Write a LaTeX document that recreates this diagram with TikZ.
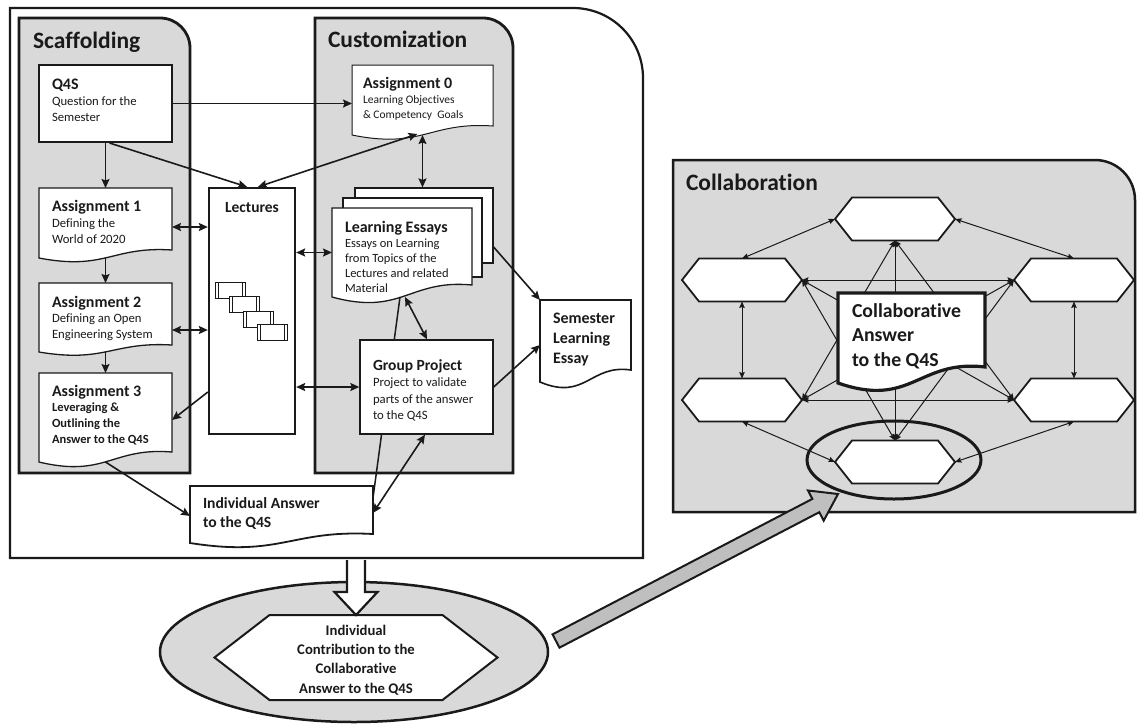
\documentclass[tikz,border=0pt]{standalone}
\usepackage{fontspec}
\setmainfont{Carlito}[Ligatures=NoCommon]
\usetikzlibrary{arrows.meta,calc,shapes.geometric}
\definecolor{panelgray}{HTML}{D9D9D9}
\definecolor{arrowgray}{HTML}{BFBFBF}
\definecolor{ink}{HTML}{1A1A1A}
% document shape: name, x1, y1, x2, yb (left bottom), a (rise of right end), style
\newcommand{\docshape}[7]{%
  \node[inner sep=0pt, outer sep=0pt, minimum width={(#4)-(#2)}, minimum height={(#5)-(#3)}] (#1) at ({((#2)+(#4))/2},{((#3)+(#5))/2}) {};
  \draw[#7] (#2,#3) -- (#4,#3) -- (#4,{(#5)-(#6)}) .. controls ({(#2)+0.55*((#4)-(#2))},{(#5)-1.5*(#6)}) and ({(#2)+0.5*((#4)-(#2))},{(#5)+1.6*(#6)}) .. (#2,#5) -- cycle;
}
% hexagon outline over a named rectangle node: name, inset, style
\newcommand{\hexdraw}[3]{%
  \draw[#3] ($(#1.north west)+(#2,0)$) -- ($(#1.north east)+(-#2,0)$) -- (#1.east) -- ($(#1.south east)+(-#2,0)$) -- ($(#1.south west)+(#2,0)$) -- (#1.west) -- cycle;
}
\newcommand{\ttl}[1]{\hbox{\fontsize{16}{19}\selectfont\bfseries #1}}
\newcommand{\tline}[1]{\hbox{#1}}
\begin{document}
\begin{tikzpicture}[x=1pt,y=-1pt,
  panel/.style={draw=ink, line width=2.8pt, fill=panelgray},
  txt/.style={anchor=base west, inner sep=0pt, outer sep=0pt, text=ink},
  boxthick/.style={draw=ink, fill=white, line width=2pt, inner sep=0pt},
  boxthin/.style={draw=ink, fill=white, line width=1.2pt, inner sep=0pt},
  docthin/.style={draw=ink, fill=white, line width=1pt},
  docmid/.style={draw=ink, fill=white, line width=1.3pt},
  arr/.style={draw=ink, line width=1.6pt, -{Stealth[length=9pt,width=8pt,inset=1.5pt]}},
  darr/.style={draw=ink, line width=1.6pt, {Stealth[length=9pt,width=8pt,inset=1.5pt]}-{Stealth[length=9pt,width=8pt,inset=1.5pt]}},
  carr/.style={draw=ink, line width=1pt, {Stealth[length=6.5pt,width=5.5pt,inset=1pt]}-{Stealth[length=6.5pt,width=5.5pt,inset=1pt]}},
  hexbox/.style={inner sep=0pt, outer sep=0pt, minimum width=120pt, minimum height=43pt},
  hexline/.style={draw=ink, fill=white, line width=1.8pt},
  lrect/.style={draw=ink, fill=white, line width=0.9pt, minimum width=30pt, minimum height=16pt, inner sep=0pt,
    path picture={\draw[line width=0.7pt] ([xshift=3pt]path picture bounding box.north west) -- ([xshift=3pt]path picture bounding box.south west) ([xshift=-3pt]path picture bounding box.north east) -- ([xshift=-3pt]path picture bounding box.south east);}}
]
\useasboundingbox (0,0) rectangle (1138,724);

% ---------- outer frame and panels ----------
\draw[draw=ink, line width=2.2pt] (10,558) -- (10,8) -- (573,8) .. controls (611.7,8) and (643,39.3) .. (643,78) -- (643,558) -- cycle;
\draw[panel] (19,473) -- (19,18) -- (160,18) .. controls (176.6,18) and (190,31.4) .. (190,48) -- (190,473) -- cycle;
\draw[panel] (315,473) -- (315,18) -- (483,18) .. controls (499.6,18) and (513,31.4) .. (513,48) -- (513,473) -- cycle;
\draw[panel, line width=2.5pt] (673,512) -- (673,160) -- (1095,160) .. controls (1117.1,160) and (1135,177.9) .. (1135,200) -- (1135,512) -- cycle;

\node[txt] (hScaf) at (33,48) {\fontsize{23.5}{28}\selectfont\bfseries Scaffolding};
\node[txt] (hCust) at (328,47) {\fontsize{23.5}{28}\selectfont\bfseries Customization};
\node[txt] (hColl) at (686,190) {\fontsize{23.5}{28}\selectfont\bfseries Collaboration};

% ---------- scaffolding ----------
\node[boxthick, minimum width=133pt, minimum height=77pt] (Q4S) at (105.5,103.5) {};
\docshape{A1}{39}{188}{172}{258}{8}{docmid}
\docshape{A2}{39}{283}{172}{352}{7}{docmid}
\docshape{A3}{39}{373}{172}{462}{10}{docmid}

\node[txt] (tQ4S) at (52,89) {\fontsize{12.7}{16}\selectfont\vtop{\ttl{Q4S}\tline{Question for the}\tline{Semester}}};
\node[txt] (tA1) at (52,211) {\fontsize{12.7}{16}\selectfont\vtop{\ttl{Assignment 1}\tline{Defining the}\tline{World of 2020}}};
\node[txt] (tA2) at (52,307) {\fontsize{12.7}{15.5}\selectfont\vtop{\ttl{Assignment 2}\tline{Defining an Open}\tline{Engineering System}}};
\node[txt] (tA3) at (52,396) {\fontsize{12.5}{15.7}\selectfont\bfseries\vtop{\ttl{Assignment 3}\tline{Leveraging \&}\tline{Outlining the}\tline{Answer to the Q4S}}};

% ---------- lectures ----------
\node[boxthick, line width=2.3pt, minimum width=86pt, minimum height=246pt] (Lec) at (252,311) {};
\node[anchor=base, inner sep=0pt, text=ink] (tLec) at (252,212) {\fontsize{15.5}{18}\selectfont\bfseries Lectures};
\node[lrect] (lr1) at (230,290) {};
\node[lrect] (lr2) at (244,304.5) {};
\node[lrect] (lr3) at (258,319) {};
\node[lrect] (lr4) at (272,332) {};

% ---------- customization ----------
\docshape{A0}{352}{65}{493}{135}{9}{docthin}
\node[txt] (tA0) at (363,88) {\fontsize{11.5}{15}\selectfont\vtop{\ttl{Assignment 0}\tline{Learning Objectives}\tline{\& Competency~~Goals}}};

\node[boxthin, minimum width=138pt, minimum height=75pt] (LEback) at (424,225.5) {};
\node[boxthin, minimum width=139pt, minimum height=79pt] (LEmid) at (412.5,237.5) {};
\docshape{LE}{332}{208}{472}{297}{12}{docmid}
\node[txt] (tLE) at (345,232) {\fontsize{12.5}{15}\selectfont\vtop{\ttl{Learning Essays}\tline{Essays on Learning}\tline{from Topics of the}\tline{Lectures and related}\tline{Material}}};

\docshape{IA}{190}{486}{373}{543}{9}{docmid, line width=1.8pt}
\node[txt] (tIA) at (203,508) {\fontsize{15.6}{19}\selectfont\bfseries\vtop{\tline{Individual Answer}\tline{to the Q4S}}};

% line from the individual answer to the essays, passing behind the group project
\draw[draw=ink, line width=1.5pt] ($(IA.east)+(0,-16.5)$) -- ($(LE.south)+(-2,0)$);

\node[boxthin, line width=1.3pt, minimum width=133pt, minimum height=94pt] (GP) at (426.5,387) {};
\node[txt] (tGP) at (373,370) {\fontsize{12.7}{16.5}\selectfont\vtop{\hbox{\fontsize{15.5}{19}\selectfont\bfseries Group Project}\tline{Project to validate}\tline{parts of the answer}\tline{to the Q4S}}};

\docshape{SLE}{540}{300}{631}{382}{12}{docmid, line width=1.6pt}
\node[txt] (tSLE) at (553,323) {\fontsize{16}{20}\selectfont\bfseries\vtop{\tline{Semester}\tline{Learning}\tline{Essay}}};

% ---------- connectors (left part) ----------
\draw[arr] (Q4S.south) -- (A1.north);
\draw[arr] (A1.south) -- (A2.north);
\draw[arr] (A2.south) -- (A3.north);
\draw[arr] (Q4S.east) -- (Q4S.east -| A0.west);
\draw[arr] ($(Q4S.south)+(4,0)$) -- ($(Lec.north)+(-5,0)$);
\draw[darr] ($(A0.south)+(-5,-1)$) -- ($(Lec.north)+(6,0)$);
\draw[darr] (A0.south) -- (A0.south |- LEback.north);
\coordinate (a1r) at ($(A1.east)+(0,4)$);
\draw[darr] (a1r) -- (a1r -| Lec.west);
\coordinate (a2r) at ($(A2.east)+(0,12.5)$);
\draw[darr] (a2r) -- (a2r -| Lec.west);
\draw[arr] ($(Lec.west)+(0,81)$) -- ($(A3.east)+(0,2.5)$);
\draw[darr] (Lec.east |- LE.west) -- (LE.west);
\draw[darr] (Lec.east |- GP.west) -- (GP.west);
\draw[arr] ($(LEback.east)+(0,21.5)$) -- (SLE.north west);
\draw[arr] (GP.east) -- ($(SLE.west)+(0,4)$);
\draw[arr] (A3.south) -- ($(IA.west)+(0,1.5)$);
\draw[darr] ($(IA.east)+(0,-1.5)$) -- ($(GP.south)+(-1.5,0)$);
\draw[darr] ($(LE.south)+(3,0)$) -- ($(GP.north)+(0.5,0)$);

% ---------- individual contribution ----------
\node[ellipse, draw=ink, fill=panelgray, line width=2.5pt, minimum width=388pt, minimum height=140pt, inner sep=0pt] (BE) at (354,652) {};
\node[inner sep=0pt, outer sep=0pt, minimum width=283pt, minimum height=85pt] (BH) at (356,657.5) {};
\hexdraw{BH}{55}{hexline, line width=2pt}
\node[align=center, text=ink, inner sep=0pt, font=\fontsize{14.7}{19.3}\selectfont\bfseries] (tBH) at (356,660) {Individual\\Contribution to the\\Collaborative\\Answer to the Q4S};
\draw[draw=ink, fill=white, line width=2.2pt, line join=miter] (347,560) -- (347,592) -- (334.5,592) -- (BH.north) -- (377.5,592) -- (365,592) -- (365,560);

% ---------- collaboration ----------
\node[ellipse, draw=ink, line width=3pt, minimum width=174pt, minimum height=78pt, inner sep=0pt] (CE) at (894,460) {};
\node[hexbox] (T) at (895,219) {};
\node[hexbox] (L) at (742,280) {};
\node[hexbox] (R) at (1074,280) {};
\node[hexbox] (LL) at (742,400) {};
\node[hexbox] (LR) at (1074,400) {};
\node[hexbox] (B) at (895,462) {};
\foreach \h in {T,L,R,LL,LR,B} { \hexdraw{\h}{17}{hexline} }

\draw[carr] (T.west) -- (L.north);
\draw[carr] (T.east) -- (R.north);
\draw[carr] (T.south) -- (LL.east);
\draw[carr] (T.south) -- (LR.west);
\draw[carr] (T.south) -- (B.north);
\draw[carr] (L.east) -- (R.west);
\draw[carr] (L.south) -- (LL.north);
\draw[carr] (L.east) -- (LR.west);
\draw[carr] (L.east) -- (B.north);
\draw[carr] (R.west) -- (LL.east);
\draw[carr] (R.south) -- (LR.north);
\draw[carr] (R.west) -- (B.north);
\draw[carr] (LL.east) -- (LR.west);
\draw[carr] (LL.south) -- (B.west);
\draw[carr] (LR.south) -- (B.east);

\docshape{CA}{838}{293}{985}{383}{16}{draw=ink, fill=white, line width=3.2pt}
\node[txt] (tCA) at (852,317) {\fontsize{19.8}{24.5}\selectfont\bfseries\vtop{\tline{Collaborative}\tline{Answer}\tline{to the Q4S}}};

% ---------- big grey arrow ----------
\coordinate (GS) at (556,641);
\coordinate (GE) at (838,494);
\coordinate (GB) at ($(GE)!25pt!(GS)$);
\draw[draw=ink, fill=arrowgray, line width=2pt, line join=miter]
  ($(GS)!7.5pt!90:(GE)$) -- ($(GB)!7.5pt!90:(GE)$) -- ($(GB)!17pt!90:(GE)$) -- (GE)
  -- ($(GB)!17pt!-90:(GE)$) -- ($(GB)!7.5pt!-90:(GE)$) -- ($(GS)!7.5pt!-90:(GE)$) -- cycle;
\end{tikzpicture}
\end{document}
